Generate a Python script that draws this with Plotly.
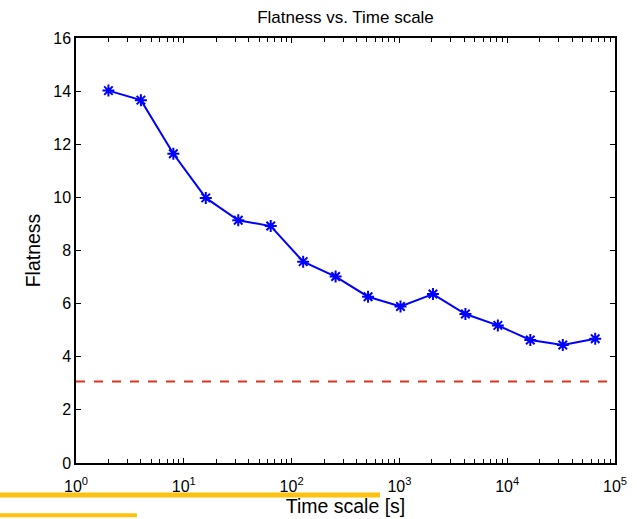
import plotly.graph_objects as go

time_scale = [2, 4, 8, 16, 32, 64, 128, 256, 512, 1024, 2048, 4096, 8192, 16384, 32768, 65536]
flatness = [14.02, 13.66, 11.64, 9.98, 9.14, 8.92, 7.58, 7.02, 6.26, 5.89, 6.36, 5.61, 5.18, 4.63, 4.44, 4.68]
gaussian_level = 3.07
x_range = [1, 100000]
x_decades = [1, 10, 100, 1000, 10000, 100000]
x_decade_labels = ["10<sup>0</sup>", "10<sup>1</sup>", "10<sup>2</sup>", "10<sup>3</sup>", "10<sup>4</sup>", "10<sup>5</sup>"]
y_tick_vals = [0, 2, 4, 6, 8, 10, 12, 14, 16]

# intermediate (unlabelled) log ticks between decades
x_minor_vals = []
for d in x_decades[:-1]:
    for m in range(2, 10):
        x_minor_vals.append(d * m)

fig = go.Figure()
fig.add_trace(go.Scatter(
    x=x_range, y=[gaussian_level, gaussian_level], mode="lines",
    line=dict(color="#E0321E", width=2, dash="dash"), showlegend=False, hoverinfo="skip"))
fig.add_trace(go.Scatter(
    x=time_scale, y=flatness, mode="lines+markers",
    line=dict(color="#0000FF", width=2),
    marker=dict(symbol="asterisk-open", size=10, color="#0000FF", line=dict(color="#0000FF", width=2)),
    showlegend=False))

font = "Liberation Sans"
fig.update_layout(
    width=637, height=519,
    margin=dict(l=76, r=22, t=38, b=56, autoexpand=False),
    paper_bgcolor="white", plot_bgcolor="white",
    font=dict(family=font, size=16, color="black"),
    title=dict(text="Flatness vs. Time scale", x=0.5, xanchor="center", xref="paper",
               y=1 - 17.5 / 519, yanchor="middle",
               font=dict(family=font, size=17, color="black")),
    xaxis=dict(type="log", range=[0, 5], tickmode="array", tickvals=x_decades, ticktext=x_decade_labels,
               ticks="inside", ticklen=5, tickwidth=1.2, tickcolor="black", ticklabelstandoff=8,
               mirror="allticks", showline=True, linecolor="black", linewidth=1.5,
               showgrid=False, zeroline=False, automargin=False,
               minor=dict(tickmode="array", tickvals=x_minor_vals, ticks="inside", ticklen=4,
                          tickwidth=1.2, tickcolor="black", showgrid=False),
               title=dict(text="Time scale [s]", standoff=2, font=dict(family=font, size=19.5)),
               tickfont=dict(family=font, size=16)),
    yaxis=dict(range=[0, 16], tickvals=y_tick_vals,
               ticks="inside", ticklen=5, tickwidth=1.2, tickcolor="black",
               mirror="allticks", showline=True, linecolor="black", linewidth=1.5,
               showgrid=False, zeroline=False, automargin=False,
               title=dict(text="Flatness", standoff=7, font=dict(family=font, size=19.5)),
               tickfont=dict(family=font, size=16)),
    shapes=[
        dict(type="line", xref="paper", yref="paper", x0=-0.141, x1=0.564, y0=-0.0753, y1=-0.0753,
             line=dict(color="#FDC20E", width=5)),
        dict(type="line", xref="paper", yref="paper", x0=-0.141, x1=0.113, y0=-0.123, y1=-0.123,
             line=dict(color="#FDC20E", width=4)),
    ],
)

fig.write_html("out.html", config={"displayModeBar": False},
               post_script="document.body.style.margin='0px';")
